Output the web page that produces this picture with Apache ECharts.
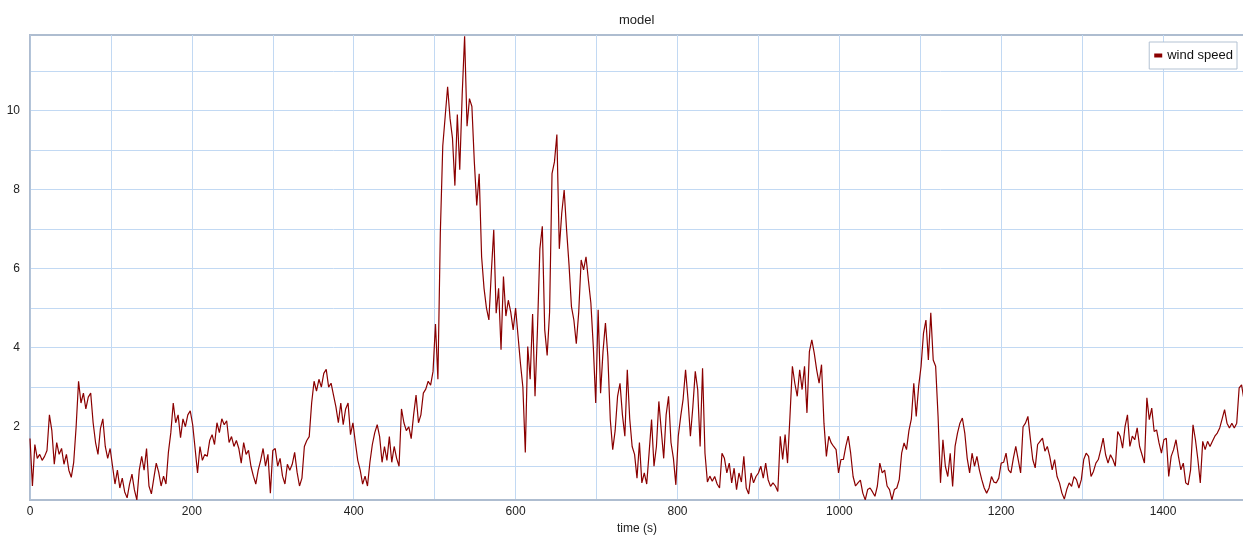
<!DOCTYPE html>
<html>
<head>
<meta charset="utf-8">
<script src="https://cdn.jsdelivr.net/npm/echarts@6/dist/echarts.min.js"></script>
<style>
html,body{margin:0;padding:0;background:#fff;}
#chart{width:1243px;height:540px;}
</style>
</head>
<body>
<div id="chart"></div>
<script>
// sample spacing (s) and start time of each segment below
const timeStep = 3;
const segmentStarts = [0, 246, 495, 747, 1005, 1245];

// wind speed readings, 0 s .. 243 s
const speedA = [1.7,0.5,1.55,1.2,1.3,1.15,1.25,1.4,2.3,1.9,
  1.05,1.6,1.3,1.45,1.05,1.3,0.9,0.72,1.1,2.0,
  3.15,2.6,2.85,2.45,2.75,2.85,2.1,1.6,1.3,1.95,
  2.2,1.5,1.2,1.45,1.0,0.55,0.9,0.45,0.7,0.35,
  0.2,0.55,0.8,0.4,0.15,0.9,1.25,0.9,1.45,0.5,
  0.3,0.7,1.08,0.85,0.5,0.75,0.55,1.35,1.85,2.6,
  2.1,2.3,1.72,2.2,2.0,2.3,2.4,2.05,1.45,0.83,
  1.5,1.15,1.3,1.25,1.65,1.8,1.55,2.1,1.85,2.2,
  2.05,2.15];
// 246 s .. 492 s
const speedB = [1.6,1.75,1.5,1.65,1.45,1.08,1.6,1.3,1.4,1.0,
  0.75,0.55,0.9,1.15,1.45,1.0,1.3,0.32,1.4,1.45,
  1.0,1.2,0.75,0.55,1.05,0.9,1.05,1.35,0.85,0.5,
  0.7,1.5,1.65,1.75,2.6,3.15,2.9,3.2,3.0,3.35,
  3.45,3.0,3.1,2.8,2.5,2.1,2.6,2.05,2.45,2.6,
  1.8,2.1,1.6,1.15,0.9,0.55,0.75,0.5,1.1,1.55,
  1.85,2.05,1.75,1.1,1.5,1.15,1.75,1.1,1.5,1.2,
  1.0,2.45,2.1,1.9,2.0,1.7,2.3,2.8,2.1,2.3,
  2.85,2.95,3.15];
// 495 s .. 744 s
const speedC = [3.05,3.4,4.6,3.2,6.9,9.1,9.85,10.6,9.8,9.3,
  8.1,9.9,8.5,10.4,11.88,9.6,10.3,10.1,8.7,7.6,
  8.4,6.3,5.5,5.0,4.7,5.9,6.98,4.87,5.5,3.95,
  5.8,4.8,5.2,4.9,4.45,5.0,4.3,3.6,3.0,1.35,
  4.03,3.2,4.85,2.77,4.45,6.5,7.07,4.45,3.8,4.9,
  8.4,8.7,9.39,6.5,7.4,7.99,6.98,6.1,5.04,4.7,
  4.1,4.9,6.22,5.97,6.3,5.7,5.13,4.03,2.6,4.96,
  2.85,3.9,4.62,3.78,2.18,1.42,1.9,2.77,3.1,2.3,
  1.76,3.44,2.2,1.5];
// 747 s .. 1002 s
const speedD = [1.3,0.7,1.6,0.58,0.83,0.55,1.35,2.18,1.0,1.5,
  2.64,1.9,1.2,2.3,2.77,1.6,1.2,0.53,1.76,2.26,
  2.7,3.44,2.7,1.76,2.5,3.4,2.94,1.5,3.48,1.33,
  0.6,0.75,0.62,0.74,0.55,0.45,1.33,1.2,0.83,1.08,
  0.58,0.95,0.41,0.83,0.6,1.25,0.45,0.3,0.83,0.58,
  0.74,0.83,1.0,0.7,1.08,0.66,0.49,0.58,0.5,0.36,
  1.76,1.17,1.8,1.08,2.26,3.53,3.1,2.77,3.44,2.94,
  3.53,2.35,3.9,4.2,3.86,3.44,3.1,3.57,2.09,1.25,
  1.76,1.59,1.5,1.42,0.83,1.17];
// 1005 s .. 1242 s
const speedE = [1.17,1.5,1.76,1.33,0.74,0.5,0.58,0.65,0.32,0.15,
  0.41,0.45,0.35,0.24,0.5,1.08,0.83,0.9,0.5,0.41,
  0.15,0.41,0.45,0.66,1.33,1.59,1.42,1.9,2.2,3.1,
  2.26,3.02,3.53,4.37,4.7,3.69,4.88,3.69,3.53,2.26,
  0.58,1.67,1.0,0.74,1.33,0.49,1.5,1.84,2.09,2.22,
  1.84,1.2,0.83,1.33,1.0,1.25,0.91,0.66,0.45,0.32,
  0.45,0.74,0.6,0.58,0.7,1.08,1.1,1.33,0.91,0.83,
  1.2,1.5,1.17,0.83,2.0,2.09,2.26,1.7,1.17,0.96];
// 1245 s .. 1500 s
const speedF = [1.55,1.63,1.71,1.38,1.5,1.25,0.91,1.17,0.74,0.58,
  0.32,0.17,0.41,0.58,0.49,0.74,0.66,0.45,0.66,1.17,
  1.33,1.25,0.74,0.87,1.08,1.17,1.42,1.71,1.29,1.08,
  1.29,1.17,1.0,1.88,1.76,1.46,2.0,2.3,1.5,1.76,
  1.67,1.97,1.5,1.29,1.08,2.73,2.18,2.47,1.88,1.92,
  1.59,1.33,1.67,1.71,0.74,1.25,1.42,1.67,1.25,0.91,
  1.08,0.58,0.53,0.91,2.05,1.67,1.17,0.58,1.63,1.42,
  1.63,1.5,1.63,1.76,1.84,1.97,2.2,2.43,2.09,1.97,
  2.09,1.97,2.09,2.98,3.06,2.68];

const yGridValues = [1,2,3,4,5,6,7,8,9,10,11];
const yLabelValues = [2,4,6,8,10];
const xLabelStep = 200;

const segments = [speedA, speedB, speedC, speedD, speedE, speedF];
const seriesData = [];
segments.forEach(function (seg, s) {
  seg.forEach(function (v, i) {
    seriesData.push([segmentStarts[s] + i * timeStep, v]);
  });
});

const chart = echarts.init(document.getElementById('chart'), null, {renderer: 'canvas'});
const font = 'Liberation Sans, Arial, sans-serif';
chart.setOption({
  animation: false,
  backgroundColor: '#ffffff',
  textStyle: {fontFamily: font},
  title: {
    text: 'model',
    left: 619,
    top: 14,
    padding: 0,
    textStyle: {fontSize: 13, fontWeight: 'normal', color: '#222', fontFamily: font}
  },
  legend: {
    data: ['wind speed'],
    top: 42,
    right: 6,
    orient: 'vertical',
    padding: [7, 4, 7, 5],
    backgroundColor: '#fff',
    borderColor: '#b3c2d3',
    borderWidth: 1,
    itemWidth: 8,
    itemHeight: 4,
    itemGap: 0,
    icon: 'rect',
    textStyle: {fontSize: 13, color: '#111', fontFamily: font, padding: [0, 0, 0, 0]}
  },
  grid: {
    left: 30, right: -1, top: 35, bottom: 40,
    outerBoundsMode: 'none',
    containLabel: false,
    show: true,
    borderColor: '#aebdd0',
    borderWidth: 2
  },
  xAxis: {
    type: 'value',
    min: 0, max: 1500, interval: 100,
    name: 'time (s)',
    nameLocation: 'middle',
    nameGap: 21,
    nameTextStyle: {fontSize: 12, color: '#222', fontFamily: font},
    axisLine: {show: true, lineStyle: {color: '#aebdd0', width: 2}},
    axisTick: {show: false},
    axisLabel: {
      margin: 6, fontSize: 12, color: '#222', fontFamily: font,
      formatter: function (v) { return v % xLabelStep === 0 ? String(v) : ''; }
    },
    splitLine: {show: true, lineStyle: {color: '#c2d9f3', width: 1}}
  },
  yAxis: {
    type: 'value',
    min: 0.146, max: 11.91,
    axisLine: {show: true, lineStyle: {color: '#aebdd0', width: 1.5}},
    axisTick: {show: false, customValues: yGridValues},
    axisLabel: {
      margin: 10, fontSize: 12, color: '#222', fontFamily: font,
      customValues: yLabelValues
    },
    splitLine: {show: true, lineStyle: {color: '#c2d9f3', width: 1}}
  },
  series: [{
    name: 'wind speed',
    type: 'line',
    data: seriesData,
    showSymbol: false,
    symbol: 'none',
    color: '#8b0000',
    lineStyle: {width: 1.2, color: '#8b0000'}
  }]
});
</script>
</body>
</html>
